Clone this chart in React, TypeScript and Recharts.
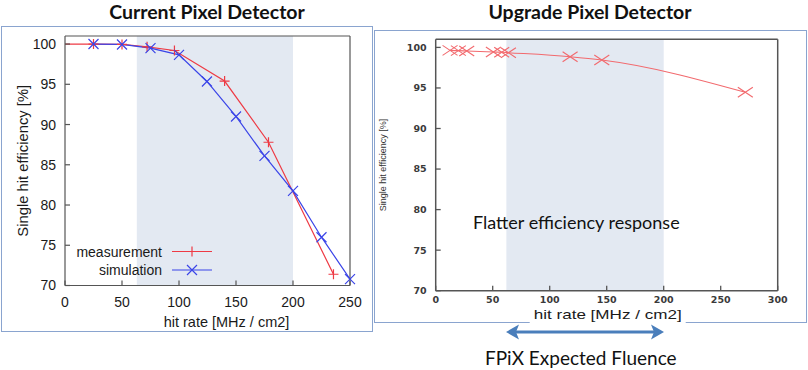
import React from 'react';
import { LineChart, Line, XAxis, YAxis, ReferenceArea, Legend } from 'recharts';

// ---- data ----
const currentRateTicks = [0, 50, 100, 150, 200, 250];
const currentTopTicks = [50, 100, 150, 200];
const upgradeRateTicks = [0, 50, 100, 150, 200, 250, 300];
const upgradeTopTicks = [50, 100, 150, 200, 250];
const efficiencyTicks = [70, 75, 80, 85, 90, 95, 100];
const efficiencyInnerTicks = [75, 80, 85, 90, 95, 100];

// current detector: measured and simulated single hit efficiency vs hit rate
const measurementRate = [0, 25, 50, 72, 96, 140, 178.5, 235.5];
const measurementEff = [100, 100, 99.95, 99.65, 99.2, 95.4, 87.8, 71.4];
const simulationRate = [25, 50, 75, 100, 124.5, 150, 175, 200, 225, 250];
const simulationEff = [100, 99.95, 99.5, 98.65, 95.35, 91.0, 86.1, 81.75, 76.0, 70.8];

// upgrade detector (simulation)
const upgradeRate = [12.6, 19.9, 27.2, 50.6, 57.9, 63.8, 117.9, 145.7, 271.6];
const upgradeEff = [99.63, 99.6, 99.55, 99.43, 99.4, 99.35, 98.85, 98.45, 94.47];

// expected FPiX hit-rate band
const fluenceBand = [63, 200];

const seriesNames = ['measurement', 'simulation'];

const measurementData = measurementRate.map((x, i) => ({ x, y: measurementEff[i] }));
const simulationData = simulationRate.map((x, i) => ({ x, y: simulationEff[i] }));
const upgradeData = upgradeRate.map((x, i) => ({ x, y: upgradeEff[i] }));

// ---- styles ----
const RED = '#ee3a44';
const BLUE = '#3a44e8';
const UP_RED = '#f26a6e';
const FRAME = '#555555';
const BOX = '#8aa4cf';
const BAND = '#e3e9f2';
const SANS = '"Liberation Sans", Arial, sans-serif';

// ---- markers ----
const plusPath = (cx: number, cy: number, r: number) =>
  `M${cx - r},${cy}H${cx + r}M${cx},${cy - r}V${cy + r}`;
const crossPath = (cx: number, cy: number, rx: number, ry: number) =>
  `M${cx - rx},${cy - ry}L${cx + rx},${cy + ry}M${cx - rx},${cy + ry}L${cx + rx},${cy - ry}`;

const PlusDot = (props: any) => {
  const { cx, cy, index } = props;
  if (cx == null || cy == null || index === 0) return <g key={`p${index}`} />;
  return <path key={`p${index}`} d={plusPath(cx, cy, 5)} stroke={RED} strokeWidth={1.2} fill="none" />;
};

const CrossDot = (props: any) => {
  const { cx, cy, index } = props;
  if (cx == null || cy == null) return <g key={`c${index}`} />;
  return <path key={`c${index}`} d={crossPath(cx, cy, 5, 5)} stroke={BLUE} strokeWidth={1.2} fill="none" />;
};

const UpgradeDot = (props: any) => {
  const { cx, cy, index } = props;
  if (cx == null || cy == null) return <g key={`u${index}`} />;
  return <path key={`u${index}`} d={crossPath(cx, cy, 7.5, 5)} stroke={UP_RED} strokeWidth={1.1} fill="none" />;
};

// ---- legend of the current detector plot ----
const CurrentLegend = () => (
  <svg width={160} height={42} style={{ display: 'block' }}>
    {seriesNames.map((name, i) => {
      const cy = 11.5 + i * 18.5;
      return (
        <g key={name}>
          <text x={102} y={cy} textAnchor="end" dominantBaseline="central"
            fontFamily={SANS} fontSize={14} fill="#1a1a1a">{name}</text>
          <line x1={112} x2={152} y1={cy} y2={cy} stroke={i === 0 ? RED : BLUE} strokeWidth={1.2} />
          <path d={i === 0 ? plusPath(132, cy, 5) : crossPath(132, cy, 5, 5)}
            stroke={i === 0 ? RED : BLUE} strokeWidth={1.2} fill="none" />
        </g>
      );
    })}
  </svg>
);

// ---- axis titles ----
const VerticalTitle = (text: string, x: number, size: number, color: string) => (props: any) => {
  const vb = props.viewBox || {};
  const cy = vb.y + vb.height / 2;
  return (
    <text x={x} y={cy} transform={`rotate(-90 ${x} ${cy})`} textAnchor="middle"
      dominantBaseline="central" fontFamily={SANS} fontSize={size} fill={color}>{text}</text>
  );
};

const CurrentRateTitle = (props: any) => {
  const vb = props.viewBox || {};
  return (
    <text x={vb.x + vb.width / 2 + 19} y={vb.y + 41.5} textAnchor="middle"
      fontFamily={SANS} fontSize={14.5} fill="#1a1a1a">hit rate [MHz / cm2]</text>
  );
};

const UpgradeRateTitle = (props: any) => {
  const vb = props.viewBox || {};
  const cx = vb.x + vb.width / 2 + 1;
  return (
    <g>
      <rect x={cx - 78} y={vb.y + 15} width={156} height={19} fill="#ffffff" />
      <text x={cx} y={vb.y + 28.5} textAnchor="middle" textLength={148} lengthAdjust="spacingAndGlyphs"
        fontFamily={SANS} fontSize={13.5} fill="#1a1a1a">hit rate [MHz / cm2]</text>
    </g>
  );
};

function CurrentDetectorChart() {
  return (
    <LineChart width={380} height={340} margin={{ top: 0, right: 0, bottom: 0, left: 0 }}>
      <XAxis xAxisId="b" type="number" dataKey="x" domain={[0, 250]} ticks={currentRateTicks}
        interval={0} height={54.5} tickSize={-5} tickMargin={17}
        axisLine={{ stroke: FRAME, strokeWidth: 1.2 }} tickLine={{ stroke: FRAME, strokeWidth: 1.2 }}
        tick={{ fill: '#1a1a1a', fontSize: 14, fontFamily: SANS }}
        label={{ content: CurrentRateTitle }} />
      <XAxis xAxisId="t" orientation="top" type="number" domain={[0, 250]} ticks={currentTopTicks}
        interval={0} height={36} tickSize={-5} tick={false}
        axisLine={{ stroke: FRAME, strokeWidth: 1.2 }} tickLine={{ stroke: FRAME, strokeWidth: 1.2 }} />
      <YAxis yAxisId="l" type="number" domain={[70, 101]} ticks={efficiencyTicks} interval={0}
        width={65} tickSize={-5} tickMargin={14}
        axisLine={{ stroke: FRAME, strokeWidth: 1.2 }} tickLine={{ stroke: FRAME, strokeWidth: 1.2 }}
        tick={{ fill: '#1a1a1a', fontSize: 14, fontFamily: SANS }}
        label={{ content: VerticalTitle('Single hit efficiency [%]', 23, 14.8, '#1a1a1a') }} />
      <YAxis yAxisId="r" orientation="right" type="number" domain={[70, 101]} ticks={efficiencyInnerTicks}
        interval={0} width={30} tickSize={-5} tick={false}
        axisLine={{ stroke: FRAME, strokeWidth: 1.2 }} tickLine={{ stroke: FRAME, strokeWidth: 1.2 }} />
      <ReferenceArea xAxisId="b" yAxisId="l" x1={fluenceBand[0]} x2={fluenceBand[1]} y1={70} y2={101}
        fill={BAND} fillOpacity={1} stroke="none" />
      <Line xAxisId="b" yAxisId="l" data={measurementData} dataKey="y" name={seriesNames[0]}
        type="linear" stroke={RED} strokeWidth={1.2} dot={PlusDot} activeDot={false}
        isAnimationActive={false} />
      <Line xAxisId="b" yAxisId="l" data={simulationData} dataKey="y" name={seriesNames[1]}
        type="linear" stroke={BLUE} strokeWidth={1.2} dot={CrossDot} activeDot={false}
        isAnimationActive={false} />
      <Legend layout="vertical" align="center" verticalAlign="middle" content={CurrentLegend}
        wrapperStyle={{ position: 'absolute', left: 60, top: 240, width: 160, height: 42 }} />
    </LineChart>
  );
}

function UpgradeDetectorChart() {
  const tickFont = { fill: '#3a3a3a', fontSize: 9.5, fontFamily: '"DejaVu Sans", sans-serif', fontWeight: 700 };
  return (
    <LineChart width={434} height={340} margin={{ top: 0, right: 0, bottom: 0, left: 0 }}>
      <XAxis xAxisId="b" type="number" dataKey="x" domain={[0, 300]} ticks={upgradeRateTicks}
        interval={0} height={49.3} tickSize={-5} tickMargin={11}
        axisLine={{ stroke: FRAME, strokeWidth: 1.5 }} tickLine={{ stroke: FRAME, strokeWidth: 1.3 }}
        tick={tickFont} label={{ content: UpgradeRateTitle }} />
      <XAxis xAxisId="t" orientation="top" type="number" domain={[0, 300]} ticks={upgradeTopTicks}
        interval={0} height={39.3} tickSize={-5} tick={false}
        axisLine={{ stroke: FRAME, strokeWidth: 1.5 }} tickLine={{ stroke: FRAME, strokeWidth: 1.3 }} />
      <YAxis yAxisId="l" type="number" domain={[70, 101]} ticks={efficiencyTicks} interval={0}
        width={61.7} tickSize={-5} tickMargin={14}
        axisLine={{ stroke: FRAME, strokeWidth: 1.5 }} tickLine={{ stroke: FRAME, strokeWidth: 1.3 }}
        tick={tickFont}
        label={{ content: VerticalTitle('Single hit efficiency [%]', 9, 9, '#333333') }} />
      <YAxis yAxisId="r" orientation="right" type="number" domain={[70, 101]} ticks={efficiencyInnerTicks}
        interval={0} width={30.3} tickSize={-5} tick={false}
        axisLine={{ stroke: FRAME, strokeWidth: 1.5 }} tickLine={{ stroke: FRAME, strokeWidth: 1.3 }} />
      <ReferenceArea xAxisId="b" yAxisId="l" x1={62} x2={fluenceBand[1]} y1={70} y2={101}
        fill={BAND} fillOpacity={1} stroke="none" />
      <Line xAxisId="b" yAxisId="l" data={upgradeData} dataKey="y" type="monotone"
        stroke={UP_RED} strokeWidth={1.1} dot={UpgradeDot} activeDot={false}
        isAnimationActive={false} />
    </LineChart>
  );
}

const titleStyle: React.CSSProperties = {
  position: 'absolute', top: 0, height: 23, lineHeight: '23px', textAlign: 'center',
  fontFamily: 'Lato, "Open Sans", sans-serif', fontWeight: 700, fontSize: 19.5, color: '#111',
  whiteSpace: 'nowrap',
};

const noteStyle: React.CSSProperties = {
  position: 'absolute', fontFamily: 'Lato, "Open Sans", sans-serif', fontSize: 18,
  color: '#111', whiteSpace: 'nowrap', lineHeight: '24px',
};

export default function App() {
  return (
    <div style={{ position: 'absolute', left: 0, top: 0, width: 808, height: 370, background: '#fff', overflow: 'hidden' }}>
      {/* panel frames */}
      <div style={{ position: 'absolute', left: 1, top: 26, width: 372, height: 306, border: `1.5px solid ${BOX}`, boxSizing: 'border-box' }} />
      <div style={{ position: 'absolute', left: 374, top: 30, width: 433, height: 293, border: `1.5px solid ${BOX}`, boxSizing: 'border-box' }} />

      <div style={{ ...titleStyle, left: 0, width: 414 }}>Current Pixel Detector</div>
      <div style={{ ...titleStyle, left: 440, width: 300 }}>Upgrade Pixel Detector</div>

      <div style={{ position: 'absolute', left: 0, top: 0 }}>
        <CurrentDetectorChart />
      </div>
      <div style={{ position: 'absolute', left: 374, top: 0 }}>
        <UpgradeDetectorChart />
      </div>

      <div style={{ ...noteStyle, left: 473, top: 210 }}>Flatter efficiency response</div>

      {/* expected fluence range arrow */}
      <svg style={{ position: 'absolute', left: 0, top: 0 }} width={808} height={370}>
        <line x1={512} x2={658} y1={332} y2={332} stroke="#4a7ebb" strokeWidth={3} />
        <path d="M506,332 L519,324.5 L516,332 L519,339.5 Z" fill="#4a7ebb" />
        <path d="M664,332 L651,324.5 L654,332 L651,339.5 Z" fill="#4a7ebb" />
      </svg>
      <div style={{ ...noteStyle, left: 485, top: 346, fontSize: 19 }}>FPiX Expected Fluence</div>
    </div>
  );
}
